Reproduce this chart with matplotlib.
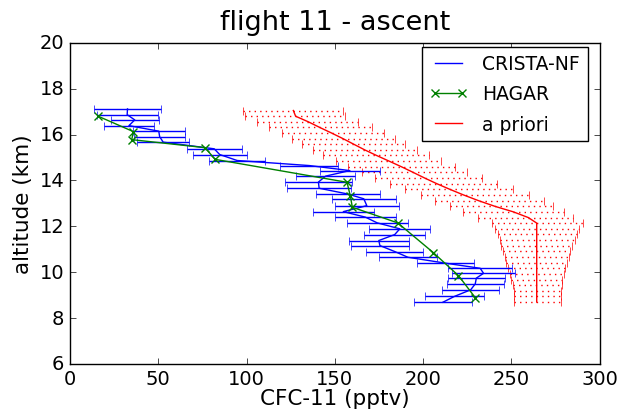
import matplotlib
matplotlib.use("Agg")
import matplotlib.pyplot as plt

plt.style.use("classic")

# CRISTA-NF retrieval (altitude in km, CFC-11 in pptv, 1-sigma error)
crista_alt = [17.12, 16.87, 16.64, 16.39, 16.15, 15.91, 15.67, 15.38, 15.13, 14.87,
              14.65, 14.43, 14.19, 13.93, 13.66, 13.41, 13.20, 12.90, 12.64, 12.40,
              12.15, 11.89, 11.64, 11.38, 11.16, 10.90, 10.65, 10.39, 10.17, 9.95,
              9.74, 9.49, 9.23, 8.95, 8.69]
crista_cfc11 = [32.6, 32.4, 36.7, 33.4, 50.3, 50.8, 52.8, 81.7, 84.8, 94.7,
                135.5, 158.5, 144.8, 140.7, 141.1, 157.3, 166.4, 168.1, 154.8, 167.3,
                174.0, 186.8, 183.9, 174.9, 175.5, 183.9, 191.4, 212.9, 232.3, 234.2,
                230.1, 229.5, 226.9, 217.9, 211.2]
crista_err = [18.8, 17.2, 13.7, 14.2, 14.8, 14.3, 14.6, 15.6, 15.3, 15.8,
              16.5, 16.8, 16.7, 18.9, 18.0, 18.0, 18.1, 18.0, 17.1, 17.2,
              17.3, 17.2, 17.2, 17.0, 16.6, 16.1, 16.3, 16.1, 18.0, 18.0,
              16.3, 16.0, 16.3, 16.8, 16.3]

# HAGAR in situ
hagar_alt = [16.80, 16.13, 15.78, 15.43, 14.92, 13.92, 13.31, 12.83, 12.15, 10.85, 9.85, 8.89]
hagar_cfc11 = [16.0, 35.9, 35.0, 76.5, 82.2, 156.9, 158.8, 159.9, 185.6, 205.8, 220.0, 229.5]

# a priori profile with its lower / upper bounds
apriori_alt = [17.05, 16.80, 16.56, 16.31, 16.07, 15.82, 15.58, 15.33, 15.09, 14.84,
               14.59, 14.35, 14.10, 13.86, 13.61, 13.37, 13.12, 12.87, 12.63, 12.38,
               12.14, 11.89, 11.65, 11.40, 11.16, 10.91, 10.67, 10.42, 10.17, 9.93,
               9.68, 9.44, 9.19, 8.95, 8.70]
apriori_cfc11 = [126.5, 127.8, 134.9, 141.5, 148.1, 154.7, 160.7, 167.0, 173.6, 180.8,
                 187.9, 194.4, 201.0, 207.7, 215.2, 222.8, 231.3, 240.7, 251.1, 259.6,
                 264.3, 264.3, 264.3, 264.3, 264.3, 264.3, 264.3, 264.3, 264.3, 264.3,
                 264.3, 264.3, 264.3, 264.3, 264.3]
apriori_lo = [98.2, 99.1, 105.7, 112.9, 119.9, 125.6, 131.2, 137.5, 143.1, 150.7,
              157.6, 165.2, 172.8, 181.2, 189.7, 198.7, 206.8, 215.2, 222.8, 230.8,
              238.9, 240.8, 242.3, 243.3, 244.2, 245.2, 246.1, 247.1, 248.0, 249.2,
              249.9, 250.7, 251.3, 251.5, 251.7]
apriori_hi = [154.9, 155.8, 163.3, 170.9, 177.9, 184.1, 189.8, 196.3, 203.5, 209.9,
              218.1, 225.1, 233.2, 241.7, 250.8, 259.7, 268.5, 273.8, 279.5, 285.1,
              290.4, 288.5, 287.0, 285.7, 284.5, 283.2, 282.3, 281.3, 280.4, 279.5,
              278.9, 278.5, 278.3, 278.1, 278.1]

fig = plt.figure(figsize=(6.3, 4.1), dpi=100, facecolor="white")
ax = fig.add_axes([0.111, 0.110, 0.841, 0.783])

# a priori: dotted error bars, solid profile
err_lo = [c - lo for c, lo in zip(apriori_cfc11, apriori_lo)]
err_hi = [hi - c for c, hi in zip(apriori_cfc11, apriori_hi)]
eb = ax.errorbar(apriori_cfc11, apriori_alt, xerr=[err_lo, err_hi], fmt="none",
                 ecolor="r", capsize=3)
eb.lines[2][0].set_linestyle(":")
ax.plot(apriori_cfc11, apriori_alt, "r-", label="a priori")

# CRISTA-NF
ax.errorbar(crista_cfc11, crista_alt, xerr=crista_err, fmt="none", ecolor="b", capsize=3)
ax.plot(crista_cfc11, crista_alt, "b-", label="CRISTA-NF")

# HAGAR
ax.plot(hagar_cfc11, hagar_alt, "g-x", label="HAGAR", mew=1)

ax.set_xlim(0, 300)
ax.set_ylim(6, 20)
ax.set_xticks([0, 50, 100, 150, 200, 250, 300])
ax.set_yticks([6, 8, 10, 12, 14, 16, 18, 20])
ax.tick_params(labelsize=14)
ax.set_xlabel("CFC-11 (pptv)", fontsize=15.5, labelpad=0)
ax.set_ylabel("altitude (km)", fontsize=15.5, labelpad=5)
ax.set_title("flight 11 - ascent", fontsize=19.5, pad=10)

h, l = ax.get_legend_handles_labels()
order = [1, 2, 0]
ax.legend([h[i] for i in order], [l[i] for i in order], loc="upper right",
          fontsize=13.5, labelspacing=0.6, borderaxespad=0,
          bbox_to_anchor=(0.977, 0.988))

fig.savefig("out.png", dpi=100)
